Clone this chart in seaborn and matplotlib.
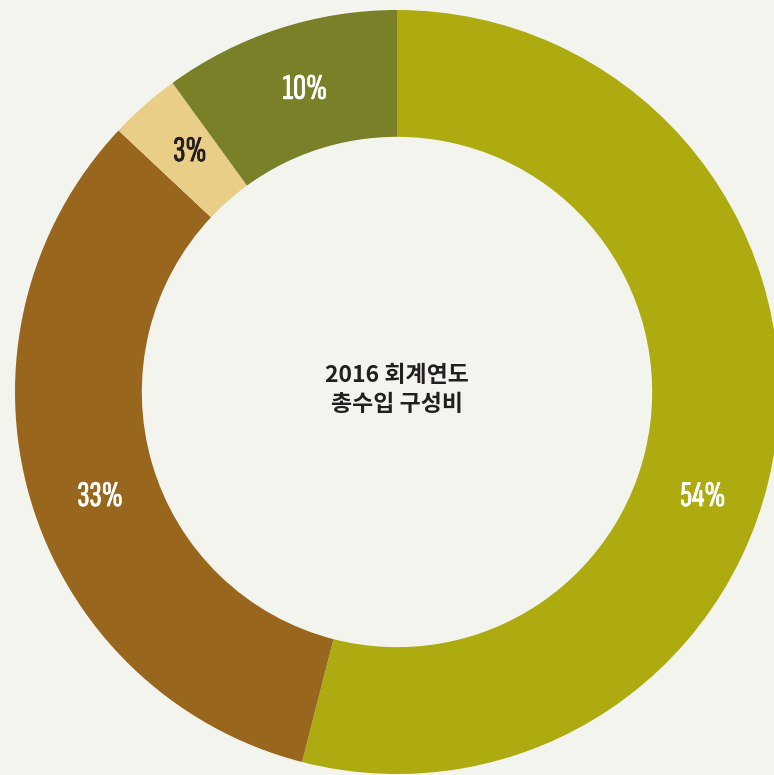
import matplotlib
matplotlib.use("Agg")
import matplotlib.pyplot as plt
import matplotlib.patheffects as pe
import seaborn as sns

categories = ["A", "B", "C", "D"]
shares = [54, 33, 3, 10]
pct_labels = ["54%", "33%", "3%", "10%"]
colors = ["#ADAB0F", "#98661C", "#E8CE87", "#7A8028"]
label_colors = ["white", "white", "#231F20", "white"]
label_x = [0.801, -0.777, -0.542, -0.241]
label_y = [-0.275, -0.275, 0.628, 0.791]
center_title = "2016 회계연도\n총수입 구성비"

sns.set_style("white")
plt.rcParams["font.family"] = ["Noto Sans CJK KR", "DejaVu Sans"]

bg = "#F4F4EE"
fig = plt.figure(figsize=(7.74, 7.75), dpi=100, facecolor=bg)
ax = fig.add_axes([0, 0, 1, 1])
ax.set_facecolor(bg)

ax.pie(
    shares,
    colors=colors,
    startangle=90,
    counterclock=False,
    radius=1.0,
    wedgeprops=dict(width=0.332, edgecolor="none", linewidth=0),
)

for lab, lc, x, y in zip(pct_labels, label_colors, label_x, label_y):
    ax.text(x, y, lab, ha="center", va="center", color=lc,
            fontsize=26,
            family=["Sofia Sans Extra Condensed", "Barlow Condensed", "DejaVu Sans"],
            path_effects=[pe.withStroke(linewidth=0.55, foreground=lc)])

ax.text(0.0, 0.005, center_title, ha="center", va="center", color="#231F20",
        fontsize=16.5, fontweight="bold", linespacing=1.3,
        family=["Noto Sans CJK KR", "DejaVu Sans"])

ax.set_aspect("auto")
ax.set_xlim(-397 / 382, 377 / 382)
ax.set_ylim(-383 / 382, 392 / 382)
ax.axis("off")

fig.savefig("out.png", dpi=100, facecolor=bg)
